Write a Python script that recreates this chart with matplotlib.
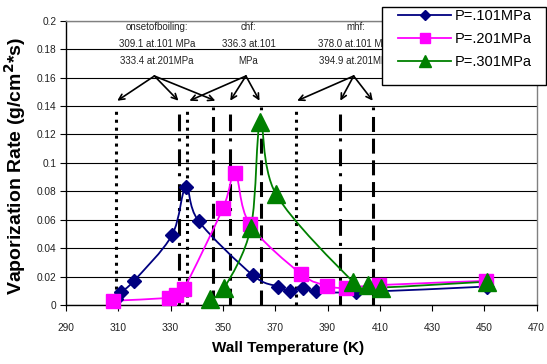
import numpy as np
import matplotlib
matplotlib.use("Agg")
import matplotlib.pyplot as plt
from matplotlib.path import Path
from matplotlib.patches import PathPatch, Rectangle
from matplotlib.lines import Line2D

plt.rcParams['font.family'] = ['Liberation Sans', 'DejaVu Sans']

# ---- data ----
series_names = ["P=.101MPa", "P=.201MPa", "P=.301MPa"]
x_101 = [309.0, 311.0, 316.0, 330.5, 335.8, 340.7, 361.4, 371.0, 375.5, 380.5, 385.5, 401.0, 451.0]
y_101 = [0.004, 0.009, 0.017, 0.049, 0.083, 0.059, 0.021, 0.013, 0.0095, 0.012, 0.0095, 0.009, 0.013]
x_201 = [308.0, 329.5, 332.0, 335.0, 350.0, 354.7, 360.2, 379.8, 389.8, 396.9, 409.6, 450.5]
y_201 = [0.003, 0.005, 0.007, 0.011, 0.068, 0.093, 0.057, 0.022, 0.0135, 0.012, 0.014, 0.017]
x_301 = [344.9, 350.5, 360.7, 364.3, 370.3, 399.7, 405.4, 410.3, 450.9]
y_301 = [0.0044, 0.012, 0.0545, 0.129, 0.078, 0.0165, 0.014, 0.0123, 0.0164]

# transition temperatures (vertical markers)
vlines_101 = [309.1, 336.3, 378.0]
vlines_201 = [333.4, 352.8, 394.9]
vlines_301 = [346.3, 364.5, 407.4]

x_ticks = [290, 310, 330, 350, 370, 390, 410, 430, 450, 470]
y_ticks = [0, 0.02, 0.04, 0.06, 0.08, 0.1, 0.12, 0.14, 0.16, 0.18, 0.2]
y_tick_labels = ["0", "0.02", "0.04", "0.06", "0.08", "0.1", "0.12", "0.14", "0.16", "0.18", "0.2"]

# annotation groups: text lines, arrow origin, arrow targets
ann_onset_text = ["onsetofboiling:", "309.1 at.101 MPa", "333.4 at.201MPa"]
ann_chf_text = ["chf:", "336.3 at.101", "MPa"]
ann_mhf_text = ["mhf:", "378.0 at.101 MPa", "394.9 at.201MPa"]
ann_onset_from = (323.8, 0.1611)
ann_chf_from = (358.8, 0.1611)
ann_mhf_from = (400.0, 0.1611)
ann_onset_to = [309.6, 333.0, 347.1]
ann_chf_to = [337.2, 352.8, 364.0]
ann_mhf_to = [378.4, 394.9, 407.3]
arrow_tip_y = 0.1437

colors = ["#000080", "#FF00FF", "#008000"]

fig = plt.figure(figsize=(5.47, 3.64), dpi=100)
ax = fig.add_axes([66/547, 1 - 305/364, (536.7 - 66)/547, (305 - 20.7)/364])
ax.set_xlim(290, 470)
ax.set_ylim(0, 0.2)


def smooth_path(x, y):
    pts = np.column_stack([x, y]).astype(float)
    n = len(pts)
    verts = [pts[0]]
    codes = [Path.MOVETO]
    for i in range(n - 1):
        p0 = pts[i - 1] if i > 0 else pts[i]
        p1 = pts[i]
        p2 = pts[i + 1]
        p3 = pts[i + 2] if i + 2 < n else pts[i + 1]
        c1 = p1 + (p2 - p0) / 6.0
        c2 = p2 - (p3 - p1) / 6.0
        verts += [c1, c2, p2]
        codes += [Path.CURVE4] * 3
    return Path(np.array(verts), codes)


# grid
ax.set_yticks(y_ticks)
ax.set_yticklabels(y_tick_labels)
ax.set_xticks(x_ticks)
ax.yaxis.grid(True, color='black', lw=0.8)
ax.set_axisbelow(True)

# vertical lines
vtop = 0.139
lw_v = 2.2
for xv in vlines_101:
    ax.plot([xv, xv], [0, vtop], color='black', lw=lw_v, dashes=(1.0, 1.6), zorder=1.5,
            dash_capstyle='butt')
for xv in vlines_201:
    ax.plot([xv, xv], [0, vtop], color='black', lw=lw_v, dashes=(5.5, 2.6, 1.0, 2.3), zorder=1.5,
            dash_capstyle='butt')
for xv in vlines_301:
    ax.plot([xv, xv], [0, vtop], color='black', lw=lw_v, dashes=(4.9, 2.2), zorder=1.5,
            dash_capstyle='butt')

# series
specs = [(x_101, y_101, 'D', 6.8), (x_201, y_201, 's', 9.8), (x_301, y_301, '^', 13.0)]
handles = []
for (xs, ys, mk, ms), c, name in zip(specs, colors, series_names):
    ax.add_patch(PathPatch(smooth_path(xs, ys), fill=False, edgecolor=c, lw=1.3, zorder=2))
    ax.plot(xs, ys, linestyle='none', marker=mk, ms=ms, color=c, mec=c, zorder=3, clip_on=False)
    handles.append(Line2D([], [], color=c, lw=1.3, marker=mk, ms=ms * 0.7, mec=c))

# annotations
tfs = 7.0
for lines, frm, tos in [(ann_onset_text, ann_onset_from, ann_onset_to),
                        (ann_chf_text, ann_chf_from, ann_chf_to),
                        (ann_mhf_text, ann_mhf_from, ann_mhf_to)]:
    for k, t in enumerate(lines):
        ax.text(frm[0] + 1.0, 0.1955 - k * 0.0118, t, fontsize=tfs, ha='center', va='center',
                color='#222222', zorder=5)
    for tx in tos:
        ax.annotate("", xy=(tx, arrow_tip_y), xytext=frm,
                    arrowprops=dict(arrowstyle='->', lw=1.2, color='black', shrinkA=0, shrinkB=0,
                                    mutation_scale=10), zorder=5)

# spines / ticks
for s in ['top', 'right']:
    ax.spines[s].set_color('#808080')
    ax.spines[s].set_linewidth(1.0)
for s in ['left', 'bottom']:
    ax.spines[s].set_color('black')
    ax.spines[s].set_linewidth(1.0)
ax.tick_params(axis='both', direction='out', length=4, width=0.8, labelsize=7.3,
               labelcolor='#222222', pad=3)
ax.tick_params(axis='x', pad=9)

ax.set_xlabel("Wall Temperature (K)", fontsize=11, fontweight='bold')
ax.xaxis.set_label_coords((288 - 66) / 470.7, -0.125)
ax.set_ylabel("Vaporization Rate (g/cm$^\\mathbf{2}$*s)", fontsize=14, fontweight='bold')
ax.yaxis.set_label_coords(-0.08, 0.49)

# legend
leg_box = Rectangle((382 / 547, 1 - 85 / 364), (546 - 382) / 547, (85 - 7) / 364,
                    transform=fig.transFigure, facecolor='white', edgecolor='black', lw=1.0,
                    zorder=10)
fig.patches.append(leg_box)
leg = fig.legend(handles=handles, labels=series_names, loc='upper left',
                 bbox_to_anchor=(394 / 547, 1 - 5 / 364), frameon=False, fontsize=10.5,
                 handlelength=3.6, handletextpad=0.3, labelspacing=0.62, borderpad=0.3,
                 borderaxespad=0)
leg.set_zorder(11)

fig.savefig("out.png", dpi=100)
